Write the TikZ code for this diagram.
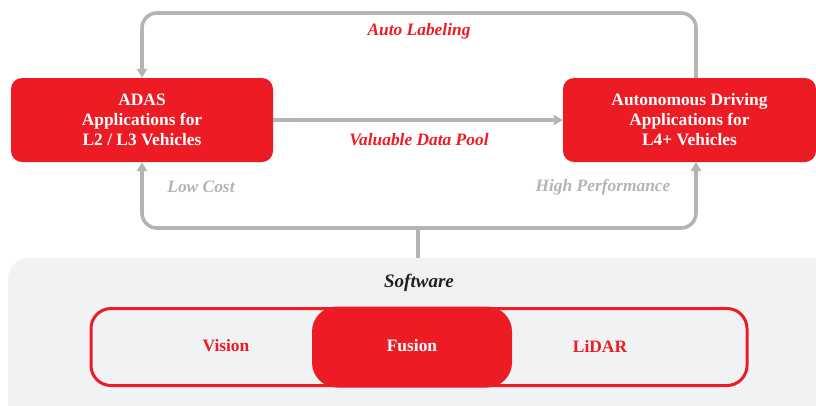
\documentclass[tikz,border=0pt]{standalone}
\usepackage{fontspec}
\setmainfont{Liberation Serif}
\usetikzlibrary{arrows.meta}
\definecolor{hred}{HTML}{ED1C24}
\definecolor{hgray}{HTML}{B3B4B7}
\definecolor{hbg}{HTML}{F1F2F4}
\definecolor{hdark}{HTML}{231F20}
\tikzset{
  appbox/.style={fill=hred, rounded corners=11pt, text=white, font=\fontsize{17.4}{20}\selectfont\bfseries, align=center, inner sep=0pt},
  conn/.style={draw=hgray, line width=3.6pt, rounded corners=15pt},
  tip/.style={-{Triangle[length=9pt,width=10pt]}},
  redlbl/.style={text=hred, font=\fontsize{17.4}{20}\selectfont\bfseries\itshape},
  graylbl/.style={text=hgray, font=\fontsize{17.4}{20}\selectfont\bfseries\itshape},
  modlbl/.style={font=\fontsize{17.4}{20}\selectfont\bfseries},
}
\begin{document}
\begin{tikzpicture}[x=1pt,y=-1pt]
\useasboundingbox (0,0) rectangle (816,405);
% software background
\node[fill=hbg, rounded corners=20pt, minimum width=830pt, minimum height=170pt, anchor=north west, inner sep=0pt] (sw) at (8,258) {};
\node[text=hdark, font=\fontsize{19}{20}\selectfont\bfseries\itshape] (swlbl) at (419,283) {Software};
% module bar
\node[draw=hred, line width=3pt, rounded corners=20pt, minimum width=656pt, minimum height=77pt, inner sep=0pt] (bar) at (419,347) {};
\node[fill=hred, rounded corners=25pt, minimum width=200pt, minimum height=81pt, inner sep=0pt] (fus) at (412,347) {};
\node[modlbl, text=hred] (vis) at (226,346) {Vision};
\node[modlbl, text=white] (fusl) at (412,346) {Fusion};
\node[modlbl, text=hred] (lid) at (600,346) {LiDAR};
% application boxes
\node[appbox, minimum width=262pt, minimum height=84pt] (adas) at (142,120) {ADAS\\Applications for\\L2 / L3 Vehicles};
\node[appbox, minimum width=253pt, minimum height=84pt] (ad) at (689.5,120) {Autonomous Driving\\Applications for\\L4+ Vehicles};
% coordinates for loops
\coordinate (adtop) at (696,78);
\coordinate (adbot) at (696,162);
\coordinate (tr) at (696,13);
\coordinate (tl) at (142,13);
\coordinate (bl) at (142,228);
\coordinate (br) at (696,228);
\coordinate (bm) at (418,228);
\coordinate (swtop) at (418,258);
% connectors
\draw[conn, tip] (adtop) -- (tr) -- (tl) -- (adas.north);
\draw[conn, tip] (adas.east) -- (ad.west);
\draw[conn, {Triangle[length=9pt,width=10pt]}-{Triangle[length=9pt,width=10pt]}] (adas.south) -- (bl) -- (br) -- (adbot);
\draw[draw=hgray, line width=3.6pt] (swtop) -- (bm);
% labels
\node[redlbl] (l1) at (419,31) {Auto Labeling};
\node[redlbl] (l2) at (419,140) {Valuable Data Pool};
\node[graylbl] (l3) at (201,187) {Low Cost};
\node[graylbl] (l4) at (603,187) {High Performance};
\end{tikzpicture}
\end{document}
